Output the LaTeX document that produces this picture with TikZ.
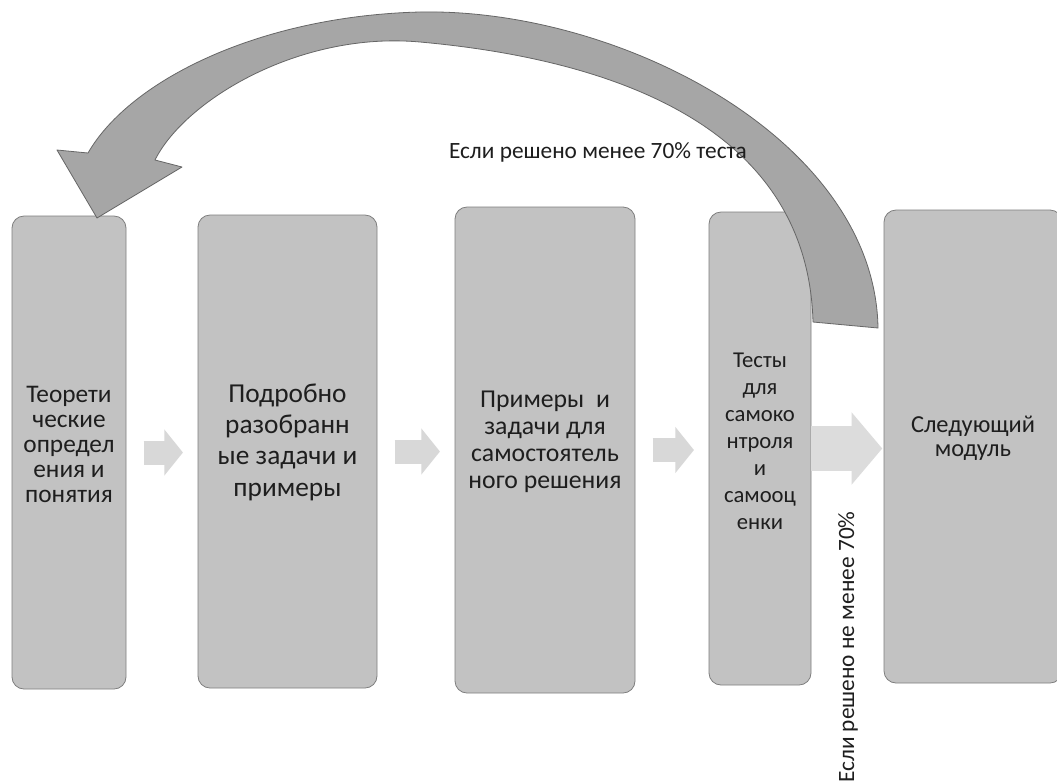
\documentclass[tikz,border=0pt]{standalone}
\usepackage{fontspec}
\setmainfont{Carlito}
\usetikzlibrary{arrows.meta,fit,calc}
\definecolor{boxfill}{HTML}{C2C2C2}
\definecolor{boxline}{HTML}{7E7E7E}
\definecolor{flowfill}{HTML}{D8D8D8}
\definecolor{bigflow}{HTML}{DCDCDC}
\definecolor{arcfill}{HTML}{A6A6A6}
\definecolor{arcline}{HTML}{666666}
\definecolor{ink}{HTML}{1E1E1E}
\tikzset{
  stepbox/.style={draw=boxline, fill=boxfill, line width=0.6pt, rounded corners=9pt,
    inner sep=0pt, align=center, text=ink},
  smallflow/.style={draw=flowfill, line width=18pt,
    -{Triangle[length=14pt,width=34pt]}, shorten <=13pt, shorten >=11pt},
  bigarrow/.style={draw=bigflow, line width=34pt,
    -{Triangle[length=23pt,width=53pt]}, shorten >=1pt},
  arcarrow/.style={fill=arcfill, draw=arcline, line width=0.6pt, line join=round},
  lbl/.style={text=ink, inner sep=0pt, font={\fontsize{17.5pt}{20pt}\selectfont}}
}
\begin{document}
\begin{tikzpicture}[x=0.75pt,y=-0.75pt]
\useasboundingbox (0,0) rectangle (1057,783);
\fill[white] (0,0) rectangle (1057,783);

% boxes
\node[stepbox, fit={(12,216) (126,689)}, font={\fontsize{19pt}{18.75pt}\selectfont}] (b1)
  {Теорети\\ческие\\определ\\ения и\\понятия};
\node[stepbox, fit={(198,215) (377,688)}, font={\fontsize{20.5pt}{23.5pt}\selectfont}] (b2)
  {Подробно\\разобранн\\ые задачи и\\примеры};
\node[stepbox, fit={(455,207) (635,693)}, font={\fontsize{19.3pt}{20.25pt}\selectfont}] (b3)
  {Примеры\ \ и\\задачи для\\самостоятель\\ного решения};
\node[stepbox, fit={(709,212) (811,685)}, font={\fontsize{17pt}{20.25pt}\selectfont}] (b4)
  {Тесты\\для\\самоко\\нтроля\\и\\самооц\\енки};
\node[stepbox, fit={(884,210) (1062,683)}, font={\fontsize{18.3pt}{17.5pt}\selectfont}] (b5)
  {Следующий\\модуль};

% flow arrows
\draw[smallflow] (b1.east) -- (b1.east -| b2.west);
\draw[smallflow] (b2.east) -- (b2.east -| b3.west);
\draw[smallflow] (b3.east) -- (b3.east -| b4.west);
\draw[bigarrow] (b4.east) -- (b4.east -| b5.west);

% curved return arrow
\filldraw[arcarrow] (878,328) .. controls (875,140) and (620,8) .. (420,12)
  .. controls (260,16) and (130,80) .. (88,153) -- (57,150) -- (97,218) -- (182,167)
  -- (155,160) .. controls (185,100) and (300,31) .. (420,42)
  .. controls (620,60) and (808,130) .. (813,322) -- cycle;

% labels
\node[lbl, anchor=base] (t1) at (598,158) {Если решено менее 70\% теста};
\node[lbl, rotate=90] (t2) at (848,647) {Если решено не менее 70\%};
\end{tikzpicture}
\end{document}
